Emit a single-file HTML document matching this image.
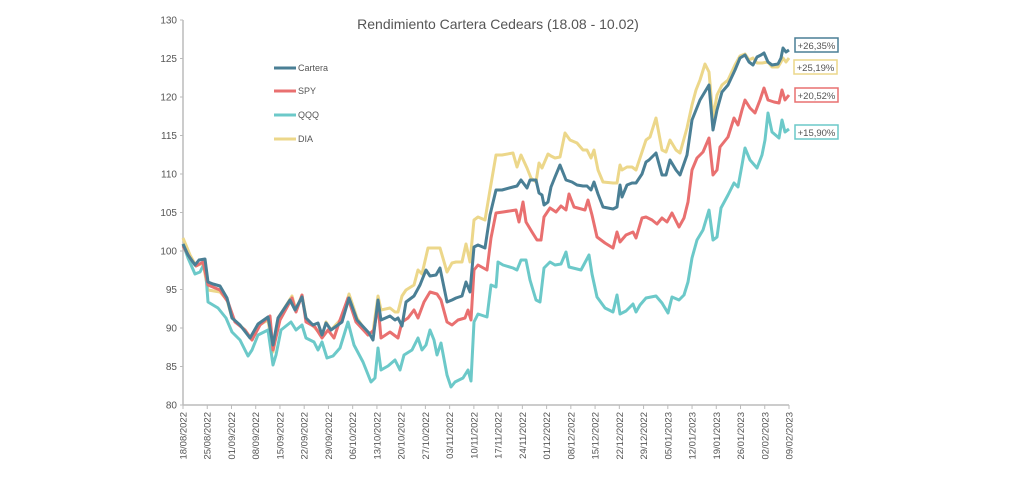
<!DOCTYPE html>
<html><head><meta charset="utf-8"><style>
html,body{margin:0;padding:0;background:#fff;}
svg{display:block;font-family:"Liberation Sans",sans-serif;}
</style></head><body>
<svg width="1019" height="498" viewBox="0 0 1019 498">
<text x="498" y="29" text-anchor="middle" font-size="14" fill="#555">Rendimiento Cartera Cedears (18.08 - 10.02)</text>
<g stroke="#bbb" stroke-width="1.5" fill="none">
<line x1="183" y1="20" x2="183" y2="405"/>
<line x1="183" y1="405" x2="789" y2="405"/>
</g>
<g font-size="10" fill="#555" text-anchor="end" id="yl"></g>
<g id="xt"></g>
<g fill="none" stroke-width="3" stroke-linejoin="round">
<polyline stroke="#ecd78a" points="183,238 190,255 196,266 203,263 208,290 220,292 227,300 232,318 245,330 252,340 258,326 268,320 273,352 280,315 292,296 296,310 302,295 306,318 315,328 322,336 326,322 331,330 342,318 349,294 357,318 368,335 373,332 378,296 381,310 390,308 395,312 398,312 402,296 406,290 414,285 418,270 422,274 428,248 435,248 440,248 447,272 452,263 456,262 462,262 466,244 470,262 474,220 478,217 485,220 490,190 496,155 502,155 513,153 517,167 521,155 527,168 531,178 536,182 539,163 542,168 548,154 551,156 555,158 560,157 565,133 570,140 577,143 583,150 587,150 591,158 594,150 598,170 603,182 613,183 617,183 620,165 622,170 627,167 632,167 636,170 642,152 646,140 650,137 656,118 662,150 666,152 670,140 676,150 680,153 687,128 692,105 696,90 700,80 705,64 709,72 713,118 717,95 722,85 728,80 735,65 740,56 745,54 749,60 753,58 757,63 762,63 768,62 772,67 778,67 781,62 783,58 786,62 789,58"/>
<polyline stroke="#6cc9c9" points="183,244 188,258 195,274 200,272 205,262 208,302 218,308 226,318 232,332 240,340 248,356 252,350 258,335 268,330 273,365 276,355 281,330 291,322 296,330 302,325 306,338 314,342 318,350 322,342 327,358 333,356 340,348 348,322 354,345 363,362 371,382 375,378 378,348 381,370 388,366 395,360 400,370 404,355 412,350 418,338 422,350 426,345 430,330 434,340 437,355 441,343 447,375 451,387 455,382 463,378 468,370 471,381 474,322 478,314 487,317 491,285 496,287 498,262 503,265 513,268 517,270 521,260 526,260 530,280 536,300 540,302 544,268 550,262 555,265 561,264 566,252 569,267 581,270 589,255 592,274 597,297 605,308 613,312 617,295 620,314 626,311 633,304 636,312 640,305 646,298 656,296 662,303 668,313 672,297 679,300 684,295 688,282 692,258 697,240 703,230 709,210 713,240 717,237 721,208 728,195 734,183 738,187 742,165 745,148 750,160 757,168 762,155 765,140 768,113 772,132 779,138 782,120 785,132 789,129"/>
<polyline stroke="#e97070" points="183,246 190,258 196,266 203,262 208,285 220,290 228,302 235,322 245,330 252,340 260,325 270,316 273,350 280,320 292,298 296,312 302,295 306,322 315,327 322,338 328,330 334,338 340,320 348,298 356,322 368,335 374,330 378,305 381,338 390,332 398,338 402,322 408,318 414,310 418,318 424,302 430,292 437,294 441,300 447,322 452,325 458,320 465,318 468,310 471,320 474,270 478,265 487,270 491,238 496,213 503,212 516,210 519,222 523,202 526,222 532,232 537,240 541,240 544,217 550,208 556,212 561,206 566,210 569,194 574,207 585,210 588,200 592,215 597,237 605,243 613,248 617,232 620,242 626,235 633,232 636,238 642,218 646,217 652,220 657,224 662,218 667,222 672,213 679,227 684,218 688,202 692,170 697,158 703,152 709,138 713,175 717,170 720,147 728,137 734,118 738,125 742,110 745,100 750,108 755,113 760,100 764,88 768,100 774,102 779,103 782,90 785,100 789,95"/>
<polyline stroke="#4a7f95" points="183,244 188,255 195,265 199,260 205,259 208,282 213,284 220,286 227,298 232,318 240,325 250,338 258,324 268,317 273,345 278,318 290,300 295,310 302,297 306,318 313,325 318,323 322,335 326,323 331,330 342,322 349,298 357,320 369,333 373,340 378,300 381,320 390,316 395,320 398,318 402,326 406,302 414,296 420,285 426,270 430,276 436,275 440,268 447,302 452,300 456,298 462,296 466,282 470,292 474,247 478,245 485,248 490,215 496,190 502,190 513,187 517,186 521,180 527,188 530,180 536,180 539,193 542,195 544,205 548,202 551,187 555,177 560,165 566,180 572,182 577,185 583,186 587,186 591,190 594,182 598,194 603,207 613,209 617,207 620,185 622,197 627,185 632,183 636,183 642,174 646,162 649,160 656,153 662,175 666,175 670,160 676,170 680,175 687,155 692,120 696,110 700,100 709,85 713,130 717,110 722,92 728,85 735,70 740,58 745,55 749,62 753,65 757,57 761,55 764,53 768,62 772,65 778,64 781,58 783,48 786,52 789,50"/>
</g>
<g font-size="9" fill="#555">
<line x1="274" y1="68" x2="296" y2="68" stroke="#4a7f95" stroke-width="3"/><text x="298" y="71">Cartera</text>
<line x1="274" y1="91" x2="296" y2="91" stroke="#e97070" stroke-width="3"/><text x="298" y="94">SPY</text>
<line x1="274" y1="115" x2="296" y2="115" stroke="#6cc9c9" stroke-width="3"/><text x="298" y="118">QQQ</text>
<line x1="274" y1="139" x2="296" y2="139" stroke="#ecd78a" stroke-width="3"/><text x="298" y="142">DIA</text>
</g>
<g font-size="9.5" fill="#555" text-anchor="middle">
<rect x="795" y="38" width="43" height="14" fill="#fff" stroke="#4a7f95" stroke-width="1.5"/><text x="816.5" y="49">+26,35%</text>
<rect x="794" y="60" width="43" height="14" fill="#fff" stroke="#ecd78a" stroke-width="1.5"/><text x="815.5" y="71">+25,19%</text>
<rect x="795" y="88" width="43" height="14" fill="#fff" stroke="#e97070" stroke-width="1.5"/><text x="816.5" y="99">+20,52%</text>
<rect x="795" y="125" width="43" height="14" fill="#fff" stroke="#6cc9c9" stroke-width="1.5"/><text x="816.5" y="136">+15,90%</text>
</g>
</svg>
<script>
var ns="http://www.w3.org/2000/svg";
var yl=document.getElementById("yl");
for(var v=80;v<=130;v+=5){var y=405-(v-80)*7.7;
var t=document.createElementNS(ns,"text");t.setAttribute("x",177);t.setAttribute("y",y+3.5);t.textContent=v;yl.appendChild(t);
var l=document.createElementNS(ns,"line");l.setAttribute("x1",180);l.setAttribute("x2",183);l.setAttribute("y1",y);l.setAttribute("y2",y);l.setAttribute("stroke","#bbb");yl.appendChild(l);}
var labs=["18/08/2022","25/08/2022","01/09/2022","08/09/2022","15/09/2022","22/09/2022","29/09/2022","06/10/2022","13/10/2022","20/10/2022","27/10/2022","03/11/2022","10/11/2022","17/11/2022","24/11/2022","01/12/2022","08/12/2022","15/12/2022","22/12/2022","29/12/2022","05/01/2023","12/01/2023","19/01/2023","26/01/2023","02/02/2023","09/02/2023"];
var xt=document.getElementById("xt");
labs.forEach(function(s,i){var x=183+i*24.24;
var l=document.createElementNS(ns,"line");l.setAttribute("x1",x);l.setAttribute("x2",x);l.setAttribute("y1",405);l.setAttribute("y2",409);l.setAttribute("stroke","#bbb");xt.appendChild(l);
var t=document.createElementNS(ns,"text");t.setAttribute("transform","translate("+(x+3.5)+",412) rotate(-90)");t.setAttribute("text-anchor","end");t.setAttribute("font-size","9.5");t.setAttribute("fill","#555");t.textContent=s;xt.appendChild(t);});
</script>
</body></html>
